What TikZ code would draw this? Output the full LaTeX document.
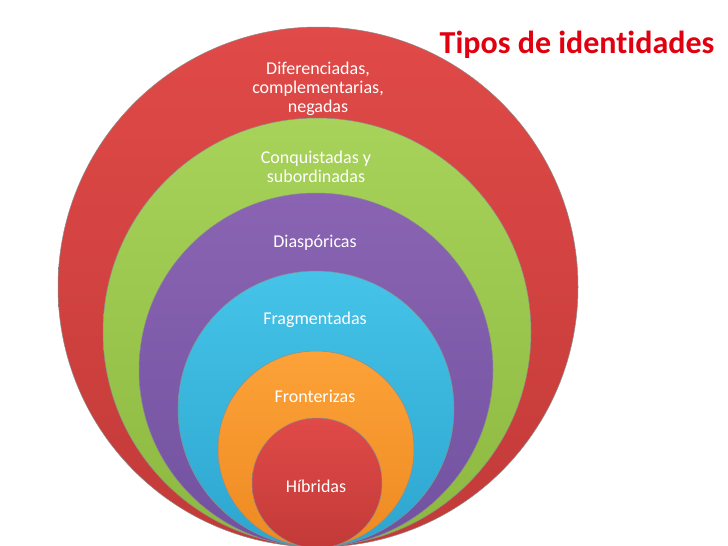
\documentclass[tikz,border=0pt]{standalone}
\usepackage{fontspec}
\setmainfont{Carlito}[Ligatures=NoCommon]
\definecolor{redT}{HTML}{E04A48}
\definecolor{redB}{HTML}{C23A38}
\definecolor{grnT}{HTML}{A8D35A}
\definecolor{grnB}{HTML}{8CB83F}
\definecolor{purT}{HTML}{8A64B3}
\definecolor{purB}{HTML}{7152A0}
\definecolor{cyaT}{HTML}{45C3E8}
\definecolor{cyaB}{HTML}{2DA6CF}
\definecolor{oraT}{HTML}{FCA238}
\definecolor{oraB}{HTML}{EE8A22}
\definecolor{titleRed}{HTML}{E0000F}
\begin{document}
\begin{tikzpicture}[x=1pt,y=-1pt,
  ring/.style={circle,inner sep=0pt,draw=black!45,line width=0.5pt},
  lbl/.style={text=white,font=\fontsize{18}{19}\selectfont,align=center,inner sep=0pt}]
\useasboundingbox (0,0) rectangle (728,546);
\fill[white] (0,0) rectangle (728,546);
\node[ring,minimum size=520pt,top color=redT,bottom color=redB] (c1) at (318,287) {};
\node[lbl] (t1) at (318,89) {Diferenciadas,\\complementarias,\\negadas};
\node[ring,minimum size=428pt,top color=grnT,bottom color=grnB] (c2) at (317,332) {};
\node[lbl] (t2) at (316,167) {Conquistadas y\\subordinadas};
\node[ring,minimum size=354pt,top color=purT,bottom color=purB] (c3) at (316,370) {};
\node[lbl] (t3) at (315,243) {Diaspóricas};
\node[ring,minimum size=276pt,top color=cyaT,bottom color=cyaB] (c4) at (316,409) {};
\node[lbl] (t4) at (315,320) {Fragmentadas};
\node[ring,minimum size=196pt,top color=oraT,bottom color=oraB] (c5) at (316,449) {};
\node[lbl] (t5) at (315,396) {Fronterizas};
\node[ring,minimum size=130pt,top color=redT,bottom color=redB] (c6) at (317,483) {};
\node[lbl] (t6) at (316,486) {Híbridas};
\node[text=titleRed,font=\fontsize{32}{36}\selectfont\bfseries,inner sep=0pt] (title) at (577,45) {Tipos de identidades};
\end{tikzpicture}
\end{document}
